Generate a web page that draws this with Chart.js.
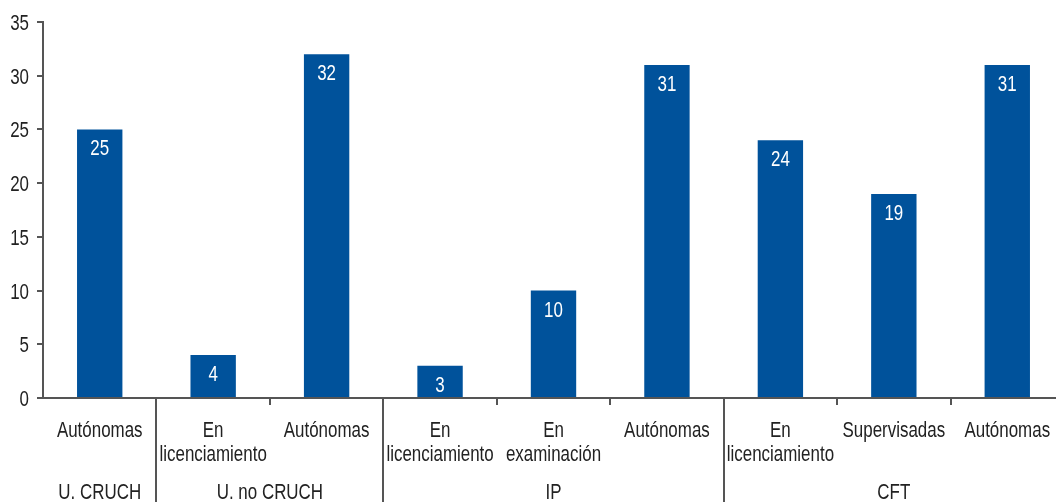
<!DOCTYPE html>
<html>
<head>
<meta charset="utf-8">
<script src="https://cdn.jsdelivr.net/npm/chart.js@4"></script>
<style>
  html, body { margin: 0; padding: 0; background: #fff; overflow: hidden; }
  #wrap { width: 1056px; height: 502px; overflow: hidden; }
</style>
</head>
<body>
<div id="wrap"><canvas id="chart" width="1070" height="502"></canvas></div>
<script>
// data
const categories = [
    'Autónomas',
    ['En', 'licenciamiento'], 'Autónomas',
    ['En', 'licenciamiento'], ['En', 'examinación'], 'Autónomas',
    ['En', 'licenciamiento'], 'Supervisadas', 'Autónomas'
];
const values = [25, 4, 32, 3, 10, 31, 24, 19, 31];
const groupNames = ['U. CRUCH', 'U. no CRUCH', 'IP', 'CFT'];
const groupSizes = [1, 2, 3, 3];
const yTicks = [0, 5, 10, 15, 20, 25, 30, 35];

const FONT = '22px "Liberation Sans", Arial, sans-serif';
const SX = 0.77; // squeeze to look like a condensed face
const AXIS = '#555';
const TEXT = '#222';

// draws text narrowed horizontally
function drawText(ctx, str, x, y, align) {
    ctx.save();
    ctx.translate(x, y);
    ctx.scale(SX, 1);
    ctx.textAlign = align;
    ctx.textBaseline = 'alphabetic';
    ctx.fillText(str, 0, 0);
    ctx.restore();
}

// white value labels inside the top of each bar
const valueLabels = {
    id: 'valueLabels',
    afterDatasetsDraw(chart) {
        const ctx = chart.ctx;
        ctx.save();
        ctx.fillStyle = '#fff';
        ctx.font = FONT;
        chart.getDatasetMeta(0).data.forEach((bar, i) => {
            drawText(ctx, String(values[i]), bar.x, bar.y + 26, 'center');
        });
        ctx.restore();
    }
};

// axis texts, group separators and group names
const axisText = {
    id: 'axisText',
    afterDraw(chart) {
        const ctx = chart.ctx;
        const x = chart.scales.x;
        const y = chart.scales.y;
        const bottom = chart.chartArea.bottom;
        ctx.save();
        ctx.font = FONT;
        ctx.fillStyle = TEXT;

        yTicks.forEach(v => drawText(ctx, String(v), 29, y.getPixelForValue(v) + 8, 'right'));

        categories.forEach((lab, i) => {
            const lines = Array.isArray(lab) ? lab : [lab];
            lines.forEach((s, k) => drawText(ctx, s, x.getPixelForValue(i), bottom + 39 + k * 24, 'center'));
        });

        ctx.strokeStyle = AXIS;
        ctx.lineWidth = 2;
        let start = 0;
        groupSizes.forEach((n, g) => {
            const left = x.getPixelForValue(start - 0.5);
            const right = x.getPixelForValue(start + n - 0.5);
            if (g > 0) {
                ctx.beginPath();
                ctx.moveTo(Math.round(left), bottom);
                ctx.lineTo(Math.round(left), chart.height);
                ctx.stroke();
            }
            drawText(ctx, groupNames[g], (left + right) / 2, bottom + 101, 'center');
            start += n;
        });
        ctx.restore();
    }
};

new Chart(document.getElementById('chart'), {
    type: 'bar',
    data: {
        labels: categories,
        datasets: [{
            data: values,
            backgroundColor: '#00529b',
            barPercentage: 0.4,
            categoryPercentage: 1
        }]
    },
    options: {
        responsive: false,
        animation: false,
        layout: { padding: { top: 22, right: 6, bottom: 0, left: 0 } },
        plugins: { legend: { display: false }, tooltip: { enabled: false } },
        scales: {
            x: {
                offset: true,
                afterFit: s => { s.height = 104; },
                grid: {
                    offset: true,
                    drawOnChartArea: false,
                    tickLength: 7,
                    color: c => (c.index === 0 ? 'rgba(0,0,0,0)' : AXIS),
                    lineWidth: 2
                },
                border: { color: AXIS, width: 2 },
                ticks: { display: false, autoSkip: false }
            },
            y: {
                min: 0,
                max: 35,
                afterFit: s => { s.width = 43; },
                afterBuildTicks: s => { s.ticks = yTicks.map(v => ({ value: v })); },
                grid: { drawOnChartArea: false, tickLength: 6, color: AXIS, lineWidth: 2 },
                border: { color: AXIS, width: 2 },
                ticks: { display: false }
            }
        }
    },
    plugins: [valueLabels, axisText]
});
</script>
</body>
</html>
